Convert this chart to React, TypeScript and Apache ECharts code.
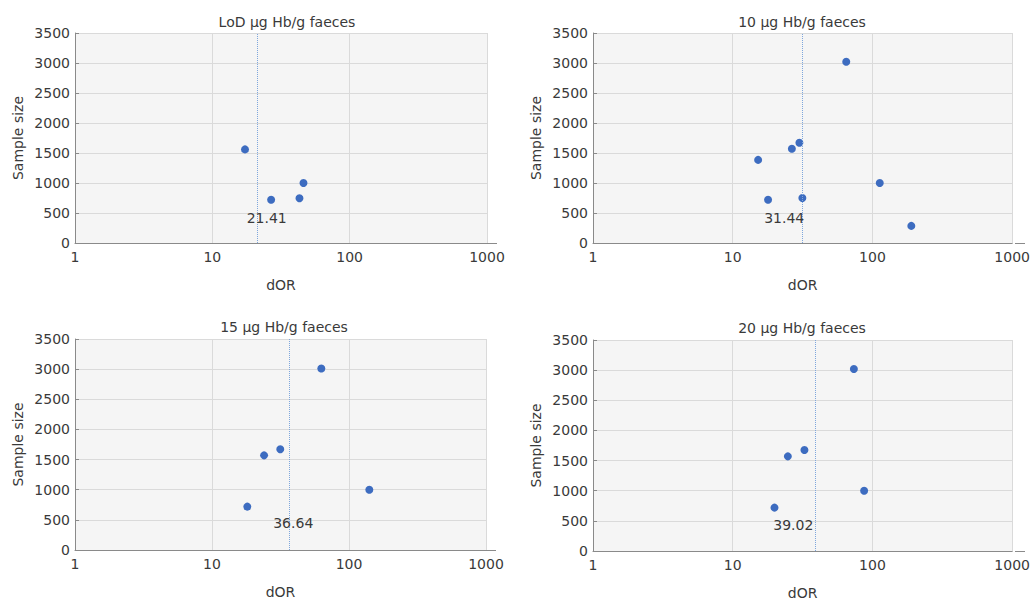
import React, { useEffect, useRef } from "react";
import * as echarts from "echarts";

// Panel titles (cut-off levels)
const panelTitles = [
  "LoD μg Hb/g faeces",
  "10 μg Hb/g faeces",
  "15 μg Hb/g faeces",
  "20 μg Hb/g faeces",
];

// Diagnostic odds ratios (x) and sample sizes (y) per study
const lodDor = [17.3, 26.8, 43.1, 46.1];
const lodSize = [1560, 720, 745, 1000];

const tenDor = [64.9, 30.0, 26.5, 15.2, 112.8, 17.9, 31.5, 189.7];
const tenSize = [3020, 1670, 1570, 1385, 1000, 720, 750, 285];

const fifteenDor = [62.8, 31.5, 24.0, 140.7, 18.1];
const fifteenSize = [3010, 1670, 1570, 1000, 720];

const twentyDor = [73.6, 32.6, 24.8, 87.2, 19.9];
const twentySize = [3020, 1675, 1570, 1000, 720];

// Pooled dOR per panel (dotted reference line)
const pooledDor = [21.41, 31.44, 36.64, 39.02];

// Axis ticks
const xTickLabels = ["1", "10", "100", "1000"];
const yTicks = [0, 500, 1000, 1500, 2000, 2500, 3000, 3500];

const dorSets = [lodDor, tenDor, fifteenDor, twentyDor];
const sizeSets = [lodSize, tenSize, fifteenSize, twentySize];

// Plot-area layout for the 2x2 panels
const grids = [
  { left: 75, top: 33, width: 412, height: 210 },
  { left: 593, top: 33, width: 422, height: 210 },
  { left: 75, top: 339, width: 411, height: 211 },
  { left: 593, top: 340, width: 422, height: 211 },
];
const titleCenters = [
  { x: 282, y: 10 },
  { x: 797, y: 10 },
  { x: 279, y: 315 },
  { x: 797, y: 316 },
];
const pooledLabelOffset = [
  [9, -25],
  [-18, -25],
  [4, -27],
  [-22, -26],
];

const FONT = "DejaVu Sans";
const TEXT = "#3a3a3a";

export default function App() {
  const ref = useRef<HTMLDivElement>(null);

  useEffect(() => {
    document.body.style.margin = "0";
    if (!ref.current) return;
    const chart = echarts.init(ref.current, undefined, { renderer: "svg" });

    const option: any = {
      animation: false,
      backgroundColor: "#ffffff",
      textStyle: { fontFamily: FONT },
      title: panelTitles.map((t, i) => ({
        text: t,
        left: titleCenters[i].x,
        top: titleCenters[i].y,
        textAlign: "center",
        textStyle: {
          fontFamily: FONT,
          fontSize: 14,
          fontWeight: "normal",
          color: TEXT,
        },
      })),
      grid: grids.map((g) => ({
        ...g,
        show: true,
        backgroundColor: "#f5f5f5",
        borderWidth: 0,
        containLabel: false,
      })),
      xAxis: grids.map((_, i) => ({
        type: "log",
        logBase: 10,
        gridIndex: i,
        min: 1,
        max: 1000,
        name: "dOR",
        nameLocation: "middle",
        nameGap: 35,
        nameTextStyle: { fontFamily: FONT, fontSize: 14, color: TEXT },
        axisLine: { show: true, lineStyle: { color: "#8a8a8a", width: 1 } },
        axisTick: { show: false },
        axisLabel: {
          fontFamily: FONT,
          fontSize: 14,
          color: TEXT,
          margin: 7,
          formatter: (v: number) => xTickLabels[Math.round(Math.log10(v))] ?? "",
        },
        splitLine: { show: true, lineStyle: { color: "#dadada", width: 1 } },
      })),
      yAxis: grids.map((_, i) => ({
        type: "value",
        gridIndex: i,
        min: yTicks[0],
        max: yTicks[yTicks.length - 1],
        interval: yTicks[1] - yTicks[0],
        name: "Sample size",
        nameLocation: "middle",
        nameGap: 50,
        nameTextStyle: { fontFamily: FONT, fontSize: 14, color: TEXT },
        axisLine: { show: true, lineStyle: { color: "#8a8a8a", width: 1 } },
        axisTick: {
          show: true,
          inside: true,
          length: 4,
          lineStyle: { color: "#8a8a8a" },
        },
        axisLabel: {
          fontFamily: FONT,
          fontSize: 14,
          color: TEXT,
          margin: 5,
          formatter: (v: number) => String(v),
        },
        splitLine: { show: true, lineStyle: { color: "#dadada", width: 1 } },
      })),
      graphic: grids.map((g) => ({
        type: "line",
        shape: {
          x1: g.left + g.width,
          y1: g.top + g.height + 0.5,
          x2: g.left + g.width + 10,
          y2: g.top + g.height + 0.5,
        },
        style: { stroke: "#8a8a8a", lineWidth: 1 },
        silent: true,
      })),
      series: grids.map((_, i) => ({
        type: "scatter",
        xAxisIndex: i,
        yAxisIndex: i,
        symbol: "circle",
        symbolSize: 8,
        itemStyle: { color: "#3d6cc0", opacity: 1 },
        data: dorSets[i].map((d, k) => [d, sizeSets[i][k]]),
        markLine: {
          silent: true,
          symbol: "none",
          label: { show: false },
          lineStyle: { color: "#7ea6dc", type: "dotted", width: 1, opacity: 1 },
          emphasis: { disabled: true },
          data: [{ xAxis: pooledDor[i] }],
        },
        markPoint: {
          silent: true,
          symbol: "circle",
          symbolSize: 0,
          data: [{ coord: [pooledDor[i], 0] }],
          label: {
            show: true,
            position: "inside",
            offset: pooledLabelOffset[i],
            formatter: () => pooledDor[i].toFixed(2),
            fontFamily: FONT,
            fontSize: 14,
            color: TEXT,
          },
        },
      })),
    };

    chart.setOption(option);
    return () => chart.dispose();
  }, []);

  return (
    <div
      ref={ref}
      style={{ width: 1033, height: 603, position: "absolute", left: 0, top: 0 }}
    />
  );
}
